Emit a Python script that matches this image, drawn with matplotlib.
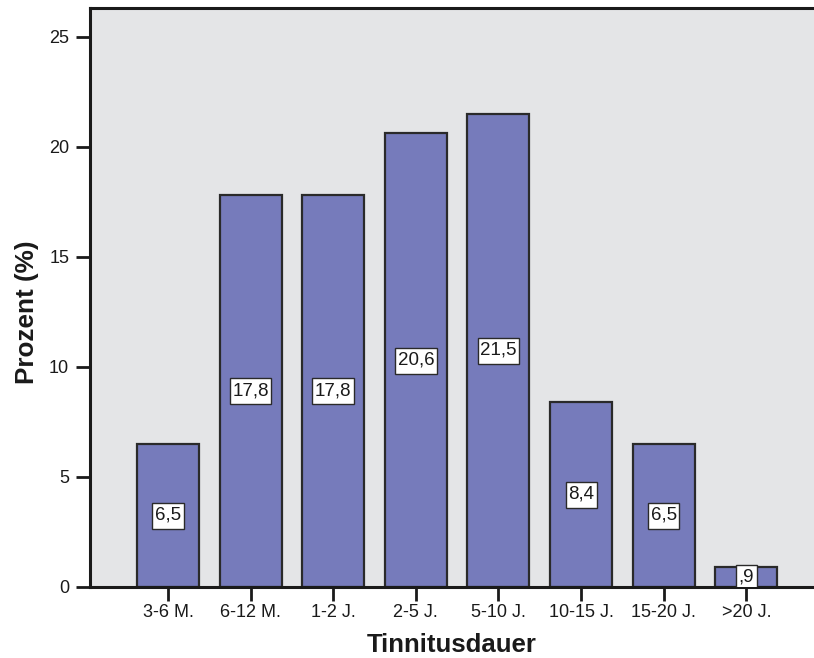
import matplotlib
matplotlib.use("Agg")
import matplotlib.pyplot as plt
from matplotlib.patches import Rectangle

plt.rcParams['font.family'] = ['Liberation Sans', 'DejaVu Sans']

categories = ["3-6 M.", "6-12 M.", "1-2 J.", "2-5 J.", "5-10 J.", "10-15 J.", "15-20 J.", ">20 J."]
percent = [6.5, 17.8, 17.8, 20.6, 21.5, 8.4, 6.5, 0.9]
y_ticks = [0, 5, 10, 15, 20, 25]


def fmt_de(v):
    s = f"{v:.1f}".replace(".", ",")
    if s.startswith("0,"):
        s = s[1:]
    return s


fig = plt.figure(figsize=(8.14, 6.58), dpi=100)
ax = fig.add_axes([0.1106, 0.108, 0.8894, 0.880])
ax.set_facecolor("#e4e5e7")

x = list(range(len(categories)))
ax.bar(x, percent, width=0.75, color="#767bbb", edgecolor="#2a2a2a", linewidth=1.6, zorder=2)

ax.set_xlim(-0.944, 7.82)
ax.set_ylim(0, 26.3)
ax.set_xticks(x)
ax.set_xticklabels(categories, fontsize=13, color="#1a1a1a")
ax.set_yticks(y_ticks)
ax.set_yticklabels([str(t) for t in y_ticks], fontsize=13, color="#1a1a1a")
ax.tick_params(axis="both", direction="out", length=10, width=2, color="#1a1a1a")
ax.tick_params(axis="x", pad=2)
ax.tick_params(axis="y", pad=5)

for side in ["left", "bottom", "top"]:
    ax.spines[side].set_linewidth(2.2)
    ax.spines[side].set_color("#1a1a1a")
ax.spines["right"].set_visible(False)

ax.set_xlabel("Tinnitusdauer", fontsize=18.5, fontweight="bold", color="#1a1a1a", labelpad=9)
ax.set_ylabel("Prozent (%)", fontsize=18.8, fontweight="bold", color="#1a1a1a")
ax.yaxis.set_label_coords(-0.071, 0.475)

# value labels centred in each bar, in white boxes
labels = []
for xi, v in zip(x, percent):
    t = ax.text(xi, v / 2, fmt_de(v), ha="center", va="center", fontsize=13.5,
                color="#1a1a1a", zorder=4)
    labels.append(t)

fig.canvas.draw()
renderer = fig.canvas.get_renderer()
inv = ax.transData.inverted()
for t in labels:
    bb = t.get_window_extent(renderer)
    x0, y0 = inv.transform((bb.x0 - 2.5, bb.y0 - 5))
    x1, y1 = inv.transform((bb.x1 + 2.5, bb.y1 + 4))
    ax.add_patch(Rectangle((x0, y0), x1 - x0, y1 - y0, facecolor="white",
                           edgecolor="#2a2a2a", linewidth=1.0, zorder=3))

fig.savefig("out.png", dpi=100)
